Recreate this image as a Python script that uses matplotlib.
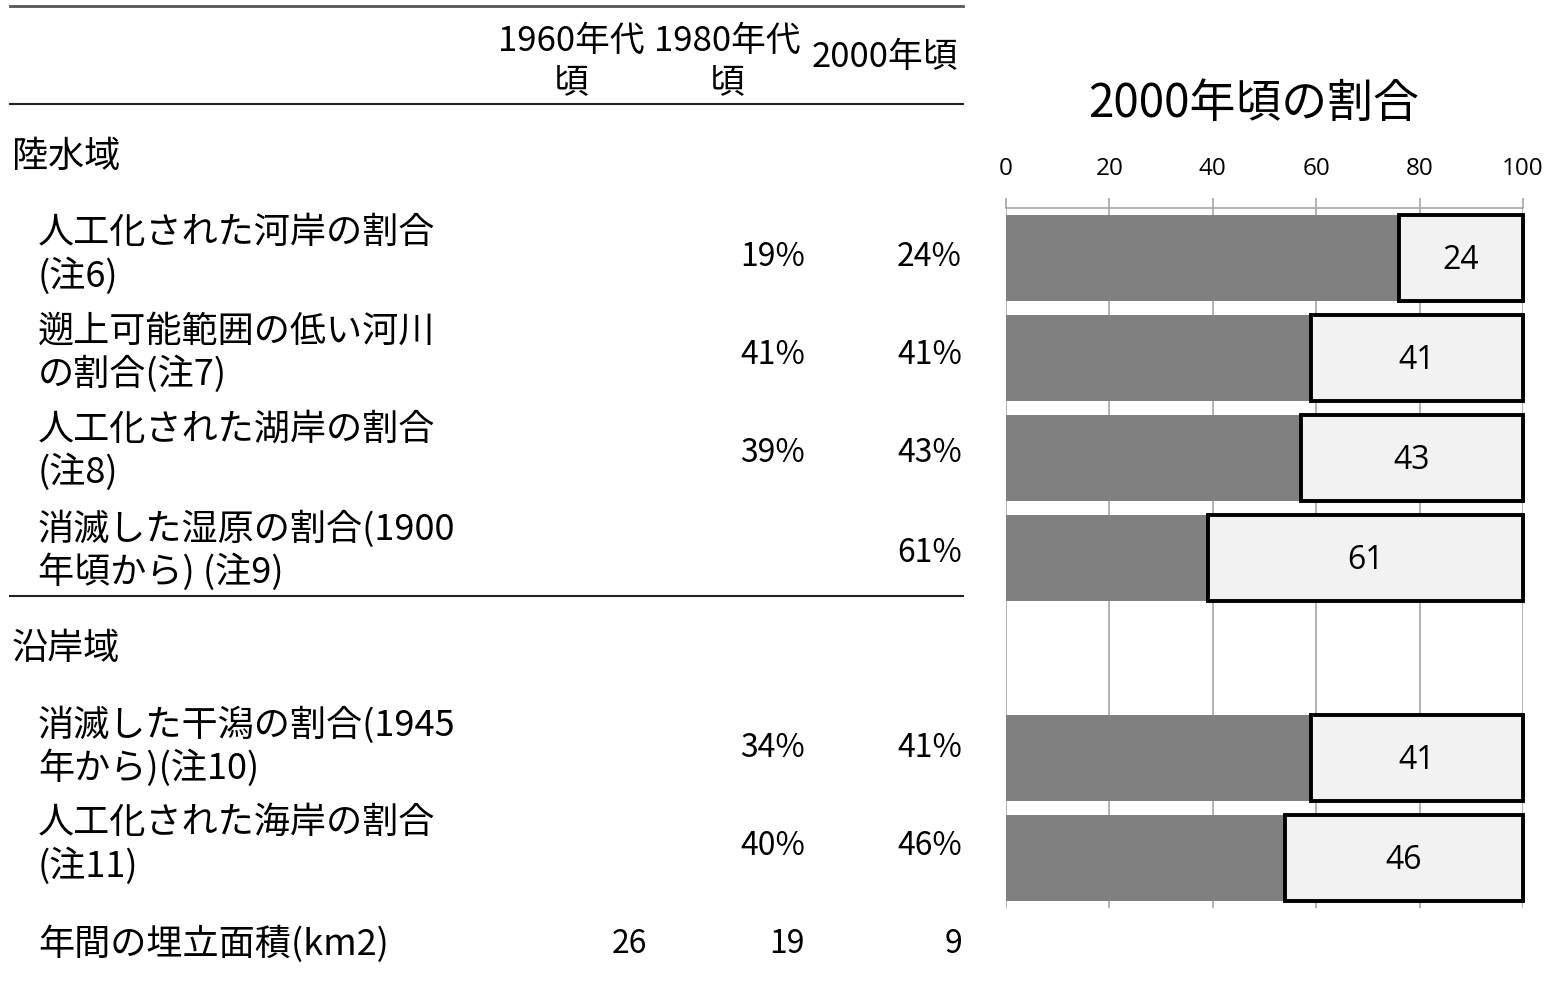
import numpy as np
import matplotlib.pyplot as plt

plt.rcParams['font.family'] = ['Noto Sans CJK JP', 'DejaVu Sans']

# 表のデータ
headers = ['1960年代\n頃', '1980年代\n頃', '2000年頃']
land_items = ['人工化された河岸の割合\n(注6)',
              '遡上可能範囲の低い河川\nの割合(注7)',
              '人工化された湖岸の割合\n(注8)',
              '消滅した湿原の割合(1900\n年頃から) (注9)']
coast_items = ['消滅した干潟の割合(1945\n年から)(注10)',
               '人工化された海岸の割合\n(注11)']
land_1980 = ['19%', '41%', '39%', '']
land_2000 = ['24%', '41%', '43%', '61%']
coast_1980 = ['34%', '40%']
coast_2000 = ['41%', '46%']
reclaim_label = '年間の埋立面積(km2)'
reclaim_vals = ['26', '19', '9']

# グラフのデータ (2000年頃の割合)
share_2000 = [24, 41, 43, 61, np.nan, 41, 46]

W, H = 1550, 987
fig = plt.figure(figsize=(W / 100, H / 100), dpi=100)


def fx(px):
    return px / W


def fy(py):
    return 1 - py / H


def hline(y, x0=10, x1=963, lw=1.5, c='#333333'):
    fig.add_artist(plt.Line2D([fx(x0), fx(x1)], [fy(y), fy(y)], color=c, lw=lw))


fs = 26
num_fs = 23
# 罫線
hline(7, c='#555555', lw=2.0)
hline(105, c='#222222', lw=1.5)
hline(597, c='#222222', lw=1.5)

# 見出し
col_x = [571, 727, 885]
for x, h in zip(col_x, headers):
    y = 62 if '\n' in h else 58
    fig.text(fx(x), fy(y), h, ha='center', va='center', fontsize=25, linespacing=1.2)

col_right = [647, 805, 962]

fig.text(fx(12), fy(157), '陸水域', ha='left', va='center', fontsize=fs)
land_y = [255, 353, 451, 551]
for y, lab, v1, v2 in zip(land_y, land_items, land_1980, land_2000):
    fig.text(fx(38), fy(y), lab, ha='left', va='center', fontsize=fs, linespacing=1.2)
    fig.text(fx(col_right[1]), fy(y + 2), v1, ha='right', va='center', fontsize=num_fs)
    fig.text(fx(col_right[2]), fy(y + 2), v2, ha='right', va='center', fontsize=num_fs)

fig.text(fx(12), fy(649), '沿岸域', ha='left', va='center', fontsize=fs)
coast_y = [747, 845]
for y, lab, v1, v2 in zip(coast_y, coast_items, coast_1980, coast_2000):
    fig.text(fx(38), fy(y), lab, ha='left', va='center', fontsize=fs, linespacing=1.2)
    fig.text(fx(col_right[1]), fy(y + 1), v1, ha='right', va='center', fontsize=num_fs)
    fig.text(fx(col_right[2]), fy(y + 1), v2, ha='right', va='center', fontsize=num_fs)

fig.text(fx(38), fy(944), reclaim_label, ha='left', va='center', fontsize=fs)
for xr, v in zip(col_right, reclaim_vals):
    fig.text(fx(xr), fy(944), v, ha='right', va='center', fontsize=num_fs)

# 横棒グラフ
ax = fig.add_axes([fx(1006), fy(909), fx(1523) - fx(1006), (909 - 209) / H])
pos = np.arange(len(share_2000))
vals = np.array(share_2000, dtype=float)
ok = ~np.isnan(vals)
ax.barh(pos[ok], 100 - vals[ok], height=0.86, color='#808080', zorder=2)
ax.barh(pos[ok], vals[ok], left=100 - vals[ok], height=0.86, color='#f2f2f2',
        edgecolor='black', linewidth=2.8, zorder=3, clip_on=False)
for p, v in zip(pos[ok], vals[ok]):
    ax.text(100 - v / 2, p + 0.02, f'{v:.0f}', ha='center', va='center',
            fontsize=23, family=['Open Sans', 'DejaVu Sans'], zorder=4)

ax.set_xlim(0, 100)
ax.set_ylim(6.5, -0.5)
ax.set_xticks(np.arange(0, 101, 20))
ax.xaxis.tick_top()
ax.tick_params(axis='x', length=7, width=1.2, color='#a6a6a6', pad=13,
               labelsize=17.5)
for lab in ax.get_xticklabels():
    lab.set_family(['Open Sans', 'DejaVu Sans'])
ax.set_yticks([])
ax.grid(axis='x', color='#a6a6a6', lw=1.2, zorder=1)
for s in ['left', 'right', 'bottom']:
    ax.spines[s].set_visible(False)
ax.spines['top'].set_color('#a6a6a6')
ax.spines['top'].set_linewidth(1.2)

fig.text(fx(1254), fy(104), '2000年頃の割合', ha='center', va='center', fontsize=33)

plt.savefig('out.png', dpi=100)
